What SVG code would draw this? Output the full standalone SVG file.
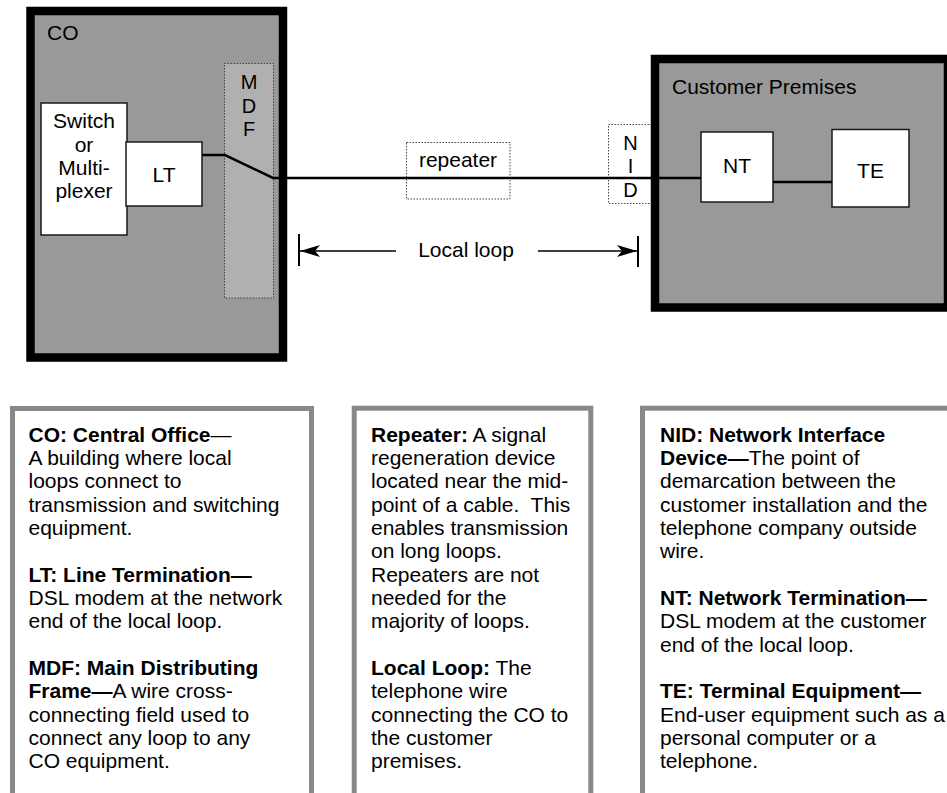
<svg xmlns="http://www.w3.org/2000/svg" width="947" height="793" viewBox="0 0 947 793">
<defs>
<style>
text{font-family:"Liberation Sans",Arial,Helvetica,sans-serif;fill:#000}
.lbl{font-size:21px}
.c{text-anchor:middle}
.ltr{font-size:20px;text-anchor:middle}
.bld{font-weight:bold}
.desc{font-size:21px}
.bldg{fill:#999999;stroke:#000;stroke-width:8.5}
.dev{fill:#fff;stroke:#1a1a1a;stroke-width:1.5}
.dot{stroke:#444;stroke-width:1;stroke-dasharray:1.5 1.5}
.wire{fill:none;stroke:#000;stroke-width:2.6}
.dim{fill:none;stroke:#000;stroke-width:1.3}
.bar{stroke:#000;stroke-width:2}
.card{fill:#fff;stroke:#888;stroke-width:5}
</style>
<marker id="arr" viewBox="0 0 20 12" refX="20" refY="6" markerWidth="20" markerHeight="12" markerUnits="userSpaceOnUse" orient="auto">
<path d="M0,0 L20,6 L0,12 L5,6 Z" fill="#000"/>
</marker>
</defs>
<rect width="947" height="793" fill="#fff"/>

<g id="co">
<rect class="bldg" x="30.5" y="11" width="252.5" height="346.5"/>
<text class="lbl" x="47" y="39.5">CO</text>
</g>
<g id="mdf">
<rect class="dot" x="224.5" y="63.5" width="49" height="234.5" fill="#b0b0b0"/>
<text class="ltr" x="249" y="89">M</text>
<text class="ltr" x="249" y="112.5">D</text>
<text class="ltr" x="249" y="136">F</text>
</g>
<g id="switch">
<rect class="dev" x="41" y="103" width="86" height="132"/>
<text class="lbl c" x="84" y="128.3">Switch</text>
<text class="lbl c" x="84" y="151.7">or</text>
<text class="lbl c" x="84" y="175">Multi-</text>
<text class="lbl c" x="84" y="198.3">plexer</text>
</g>
<g id="lt">
<rect class="dev" x="126" y="142" width="76" height="64"/>
<text class="lbl c" x="164" y="181.7">LT</text>
</g>
<g id="repeater">
<rect class="dot" x="406.5" y="142.5" width="103.5" height="56.5" fill="none"/>
<text class="lbl c" x="458" y="166.7">repeater</text>
</g>
<g id="nid">
<rect class="dot" x="608.5" y="124.5" width="44" height="79" fill="none"/>
<text class="ltr" x="630.5" y="150">N</text>
<text class="ltr" x="630.5" y="173.3">I</text>
<text class="ltr" x="630.5" y="197.3">D</text>
</g>
<g id="customer-premises">
<rect class="bldg" x="655" y="59" width="293" height="248.5"/>
<text class="lbl" x="672" y="94.3">Customer Premises</text>
</g>
<g id="nt">
<rect class="dev" x="701" y="132" width="72" height="70"/>
<text class="lbl c" x="737" y="172.7">NT</text>
</g>
<g id="te">
<rect class="dev" x="832" y="129.5" width="77" height="77.5"/>
<text class="lbl c" x="870.5" y="177.7">TE</text>
</g>

<g id="connectors">
<polyline class="wire" points="202,155 225,155 273,178 701,178"/>
<line class="wire" x1="773" y1="182" x2="832" y2="182"/>
<line class="dim" x1="396" y1="251" x2="300" y2="251" marker-end="url(#arr)"/>
<line class="dim" x1="538" y1="251" x2="637" y2="251" marker-end="url(#arr)"/>
<line class="bar" x1="299" y1="234" x2="299" y2="266"/>
<line class="bar" x1="638" y1="236" x2="638" y2="267"/>
</g>
<g id="local-loop-label">
<text class="lbl c" x="466" y="256.7">Local loop</text>
</g>

<g id="legend-co">
<rect class="card" x="12.5" y="408.5" width="299" height="420"/>
<text class="desc" x="28.5" y="441.7"><tspan class="bld">CO: Central Office</tspan>—</text>
<text class="desc" x="28.5" y="465">A building where local</text>
<text class="desc" x="28.5" y="488.3">loops connect to</text>
<text class="desc" x="28.5" y="511.7">transmission and switching</text>
<text class="desc" x="28.5" y="535">equipment.</text>
<text class="desc" x="28.5" y="581.7"><tspan class="bld">LT: Line Termination—</tspan></text>
<text class="desc" x="28.5" y="605">DSL modem at the network</text>
<text class="desc" x="28.5" y="628.3">end of the local loop.</text>
<text class="desc bld" x="28.5" y="675">MDF: Main Distributing</text>
<text class="desc" x="28.5" y="698.3"><tspan class="bld">Frame—</tspan>A wire cross-</text>
<text class="desc" x="28.5" y="721.7">connecting field used to</text>
<text class="desc" x="28.5" y="745">connect any loop to any</text>
<text class="desc" x="28.5" y="768.3">CO equipment.</text>
</g>
<g id="legend-repeater">
<rect class="card" x="354.2" y="408.2" width="236.6" height="420"/>
<text class="desc" x="371" y="441.7"><tspan class="bld">Repeater:</tspan> A signal</text>
<text class="desc" x="371" y="465">regeneration device</text>
<text class="desc" x="371" y="488.3">located near the mid-</text>
<text class="desc" x="371" y="511.7">point of a cable.&#160; This</text>
<text class="desc" x="371" y="535">enables transmission</text>
<text class="desc" x="371" y="558.3">on long loops.</text>
<text class="desc" x="371" y="581.7">Repeaters are not</text>
<text class="desc" x="371" y="605">needed for the</text>
<text class="desc" x="371" y="628.3">majority of loops.</text>
<text class="desc" x="371" y="675"><tspan class="bld">Local Loop:</tspan> The</text>
<text class="desc" x="371" y="698.3">telephone wire</text>
<text class="desc" x="371" y="721.7">connecting the CO to</text>
<text class="desc" x="371" y="745">the customer</text>
<text class="desc" x="371" y="768.3">premises.</text>
</g>
<g id="legend-nid">
<rect class="card" x="642.5" y="408.2" width="320" height="420"/>
<text class="desc bld" x="660" y="441.7">NID: Network Interface</text>
<text class="desc" x="660" y="465"><tspan class="bld">Device—</tspan>The point of</text>
<text class="desc" x="660" y="488.3">demarcation between the</text>
<text class="desc" x="660" y="511.7">customer installation and the</text>
<text class="desc" x="660" y="535">telephone company outside</text>
<text class="desc" x="660" y="558.3">wire.</text>
<text class="desc bld" x="660" y="605">NT: Network Termination—</text>
<text class="desc" x="660" y="628.3">DSL modem at the customer</text>
<text class="desc" x="660" y="651.7">end of the local loop.</text>
<text class="desc bld" x="660" y="698.3">TE: Terminal Equipment—</text>
<text class="desc" x="660" y="721.7">End-user equipment such as a</text>
<text class="desc" x="660" y="745">personal computer or a</text>
<text class="desc" x="660" y="768.3">telephone.</text>
</g>
</svg>
